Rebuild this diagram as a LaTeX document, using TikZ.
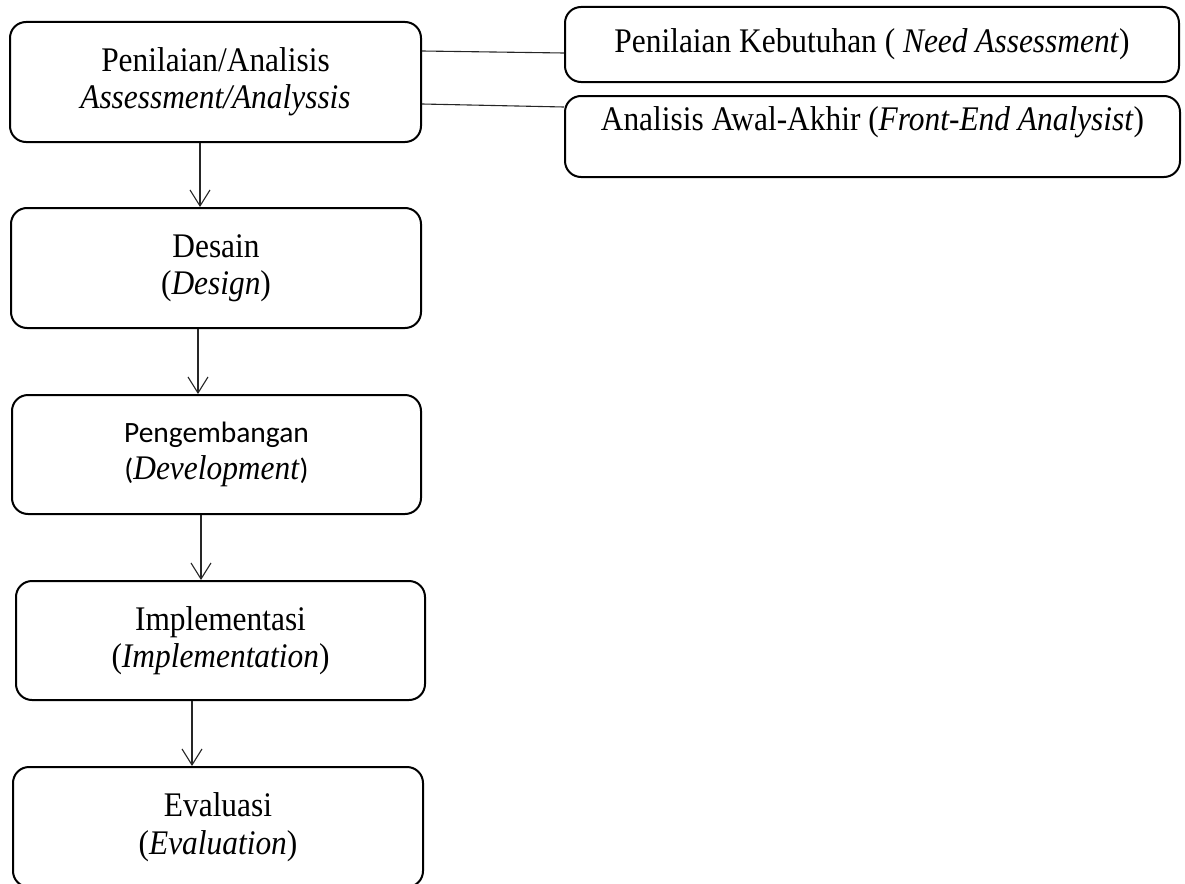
\documentclass[tikz,border=0pt]{standalone}
\usepackage{fontspec}
\setmainfont{Liberation Serif}[FakeStretch=0.91]
\newfontfamily\calibri{Carlito}[Scale=0.855]
\usetikzlibrary{arrows.meta}
\begin{document}
\begin{tikzpicture}[x=1pt,y=-1pt,
  box/.style={draw=black, line width=2pt, rounded corners=16pt, inner sep=0pt,
    align=center, font=\fontsize{34.5}{37.5}\selectfont},
  link/.style={draw=black!85, line width=1.1pt},
  arr/.style={draw=black!85, line width=1.1pt, -{Straight Barb[length=16pt,width=20pt,line width=1.1pt]}}]
\useasboundingbox (0,0) rectangle (1185,883);
\node[box, minimum width=411pt, minimum height=120pt] (b1) at (215.5,82)
  {Penilaian/Analisis\\\textit{Assessment/Analyssis}};
\node[box, minimum width=410pt, minimum height=120pt] (b2) at (216,268)
  {Desain\\(\textit{Design})};
\node[box, minimum width=409pt, minimum height=119pt] (b3) at (216.5,454.5)
  {{\calibri Pengembangan}\\{\calibri(}\textit{Development}{\calibri)}};
\node[box, minimum width=409pt, minimum height=119pt] (b4) at (220.5,640.5)
  {Implementasi\\(\textit{Implementation})};
\node[box, minimum width=410pt, minimum height=120pt] (b5) at (218,827)
  {Evaluasi\\(\textit{Evaluation})};
\node[box, minimum width=614pt, minimum height=75pt] (rA) at (872,44.5)
  {Penilaian Kebutuhan ( \textit{Need Assessment})};
\node[box, minimum width=615pt, minimum height=81pt, text height=23pt, text depth=36pt] (rB) at (872.5,136.5)
  {Analisis Awal-Akhir (\textit{Front-End Analysist})};
\draw[link] ([yshift=31pt]b1.east) -- ([yshift=-8.5pt]rA.west);
\draw[link] ([yshift=-22pt]b1.east) -- ([yshift=29.5pt]rB.west);
\draw[arr] ([xshift=-15.5pt]b1.south) -- ([xshift=-16pt]b2.north);
\draw[arr] ([xshift=-18pt]b2.south) -- ([xshift=-18.5pt]b3.north);
\draw[arr] ([xshift=-15.5pt]b3.south) -- ([xshift=-19.5pt]b4.north);
\draw[arr] ([xshift=-28.5pt]b4.south) -- ([xshift=-26pt]b5.north);
\end{tikzpicture}
\end{document}
